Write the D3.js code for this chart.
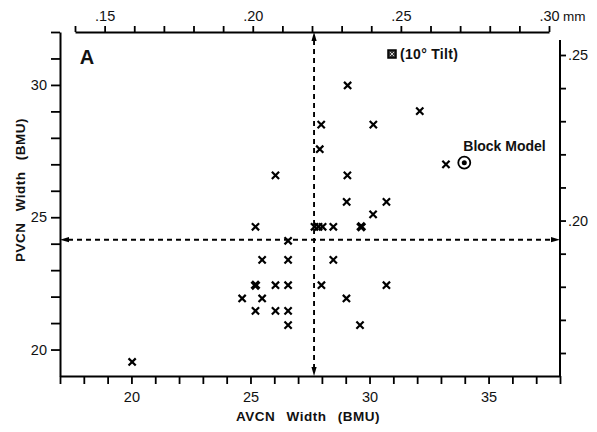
<!DOCTYPE html>
<html>
<head>
<meta charset="utf-8">
<script src="https://cdn.jsdelivr.net/npm/d3@7"></script>
<style>
    html, body { margin: 0; padding: 0; background: #fff; }
    svg { display: block; font-family: "Liberation Sans", Arial, sans-serif; }
</style>
</head>
<body>
<div id="chart"></div>
<script>
/* ============================================= */
/* Data */
/* ============================================= */

// AVCN width (x) and PVCN width (y), in BMU
const avcn = [29.08, 32.11, 27.97, 30.16, 27.91, 33.21, 26.05, 29.07, 29.04, 30.71,
              30.15, 25.21, 27.69, 27.86, 28.03, 28.48, 26.58, 25.49, 26.58, 28.48,
              26.05, 26.58, 27.98, 30.71, 24.65, 25.49, 29.03, 25.21, 26.05, 26.58,
              26.58, 29.60, 20.03];
const pvcn = [29.98, 29.01, 28.50, 28.50, 27.57, 27.00, 26.58, 26.58, 25.58, 25.58,
              25.11, 24.64, 24.64, 24.64, 24.64, 24.64, 24.11, 23.39, 23.39, 23.39,
              22.43, 22.43, 22.43, 22.43, 21.93, 21.93, 21.93, 21.46, 21.46, 21.46,
              20.92, 20.92, 19.53];

// heavier marks (tilted sections)
const tiltAvcn = [29.65, 25.21];
const tiltPvcn = [24.64, 22.43];

const blockModel = [33.98, 27.06];
const medians = [27.67, 24.15];   // [AVCN, PVCN]

const bmuTicks = d3.range(17, 39);
const pvcnTicks = d3.range(20, 33);
const mmTopTicks = d3.range(14, 31).map(d => d / 100);
const mmRightTicks = d3.range(16, 26).map(d => d / 100);

/* ============================================= */
/* Setup */
/* ============================================= */

const width = 597, height = 432;
const svg = d3.select('#chart').append('svg')
    .attr('width', width)
    .attr('height', height);

const x = d3.scaleLinear().domain([17, 38]).range([60, 560]);
const y = d3.scaleLinear().domain([19, 32]).range([376, 32]);
const mmX = d3.scaleLinear().domain([0.14, 0.30]).range([75, 549]);
const mmY = d3.scaleLinear().domain([0.16, 0.25]).range([353, 55]);

const labelFmt = d => (Math.round(d) % 5 === 0 ? d : '');
const mmFmt = d => {
    const v = Math.round(d * 100);
    return v % 5 === 0 ? '.' + v : '';
};

function styleAxis(g) {
    g.selectAll('path.domain').attr('stroke-width', 2);
    g.selectAll('.tick line').attr('stroke-width', 1.8);
    g.selectAll('.tick text')
        .attr('font-size', 14.5)
        .attr('fill', '#111');
}

/* ============================================= */
/* Axes */
/* ============================================= */

svg.append('g')
    .attr('transform', `translate(0,${y(19)})`)
    .call(d3.axisBottom(x).tickValues(bmuTicks).tickSize(8).tickSizeOuter(0)
        .tickPadding(8).tickFormat(labelFmt))
    .call(styleAxis);

svg.append('g')
    .attr('transform', `translate(${x(17)},0)`)
    .call(d3.axisLeft(y).tickValues(pvcnTicks).tickSize(9).tickSizeOuter(0)
        .tickPadding(4).tickFormat(labelFmt))
    .call(styleAxis);

const topAxis = svg.append('g')
    .attr('transform', `translate(0,${y(32)})`)
    .call(d3.axisTop(mmX).tickValues(mmTopTicks).tickSize(6).tickSizeOuter(0)
        .tickPadding(5).tickFormat(mmFmt))
    .call(styleAxis);

topAxis.append('text')
    .attr('x', mmX(0.30) + 14)
    .attr('y', -11)
    .attr('font-size', 13.5)
    .attr('fill', '#111')
    .attr('text-anchor', 'start')
    .text('mm');

const rightAxis = svg.append('g')
    .attr('transform', `translate(${x(38)},0)`)
    .call(d3.axisRight(mmY).tickValues(mmRightTicks).tickSize(6).tickSizeOuter(0)
        .tickPadding(2).tickFormat(mmFmt))
    .call(styleAxis);

rightAxis.select('path.domain').remove();
rightAxis.append('line')
    .attr('y1', 40)
    .attr('y2', y(19))
    .attr('stroke', '#000')
    .attr('stroke-width', 2);

/* ============================================= */
/* Median lines with arrows */
/* ============================================= */

function arrowHead(px, py, dir) {
    // small filled triangle pointing in dir ('up','down','left','right')
    const s = 2.6, l = 9;
    let pts;
    if (dir === 'up') pts = [[px, py], [px - s, py + l], [px + s, py + l]];
    if (dir === 'down') pts = [[px, py], [px - s, py - l], [px + s, py - l]];
    if (dir === 'left') pts = [[px, py], [px + l, py - s], [px + l, py + s]];
    if (dir === 'right') pts = [[px, py], [px - l, py - s], [px - l, py + s]];
    svg.append('polygon')
        .attr('points', pts.map(p => p.join(',')).join(' '))
        .attr('fill', '#000');
}

svg.append('line')
    .attr('x1', x(medians[0])).attr('x2', x(medians[0]))
    .attr('y1', y(32) + 8).attr('y2', y(19) - 8)
    .attr('stroke', '#000')
    .attr('stroke-width', 1.9)
    .attr('stroke-dasharray', '5,4');
arrowHead(x(medians[0]), y(32), 'up');
arrowHead(x(medians[0]), y(19), 'down');

svg.append('line')
    .attr('x1', x(17) + 8).attr('x2', x(38) - 8)
    .attr('y1', y(medians[1])).attr('y2', y(medians[1]))
    .attr('stroke', '#000')
    .attr('stroke-width', 1.9)
    .attr('stroke-dasharray', '5,4');
arrowHead(x(17), y(medians[1]), 'left');
arrowHead(x(38), y(medians[1]), 'right');

/* ============================================= */
/* Points */
/* ============================================= */

const points = avcn.map((d, i) => ({ x: d, y: pvcn[i] }));
const tiltPoints = tiltAvcn.map((d, i) => ({ x: d, y: tiltPvcn[i] }));
const cross = r => `M${-r},${-r}L${r},${r}M${-r},${r}L${r},${-r}`;

svg.selectAll('.dot')
    .data(points)
    .enter().append('path')
    .attr('class', 'dot')
    .attr('transform', d => `translate(${x(d.x)},${y(d.y)})`)
    .attr('d', cross(3.6))
    .attr('stroke', '#000')
    .attr('stroke-width', 2.2)
    .attr('fill', 'none');

svg.selectAll('.tilt')
    .data(tiltPoints)
    .enter().append('path')
    .attr('class', 'tilt')
    .attr('transform', d => `translate(${x(d.x)},${y(d.y)})`)
    .attr('d', cross(3.8))
    .attr('stroke', '#000')
    .attr('stroke-width', 3.4)
    .attr('fill', 'none');

// block model marker
const bm = svg.append('g')
    .attr('transform', `translate(${x(blockModel[0])},${y(blockModel[1])})`);
bm.append('circle').attr('r', 6).attr('fill', 'none')
    .attr('stroke', '#000').attr('stroke-width', 1.8);
bm.append('circle').attr('r', 2.5).attr('fill', '#000');

svg.append('text')
    .attr('x', x(blockModel[0]) - 1)
    .attr('y', y(blockModel[1]) - 12)
    .attr('font-size', 14)
    .attr('font-weight', 'bold')
    .attr('fill', '#111')
    .text('Block Model');

/* ============================================= */
/* Labels */
/* ============================================= */

// tilt legend
svg.append('rect')
    .attr('x', 388).attr('y', 50)
    .attr('width', 8).attr('height', 8)
    .attr('fill', '#333')
    .attr('stroke', '#000')
    .attr('stroke-width', 1.5);
svg.append('path')
    .attr('transform', 'translate(392,54)')
    .attr('d', cross(2))
    .attr('stroke', '#ccc')
    .attr('stroke-width', 1);
svg.append('text')
    .attr('x', 400).attr('y', 59)
    .attr('font-size', 14)
    .attr('font-weight', 'bold')
    .attr('letter-spacing', 0.3)
    .attr('fill', '#111')
    .text('(10\u00b0 Tilt)');

svg.append('text')
    .attr('x', 87).attr('y', 64)
    .attr('text-anchor', 'middle')
    .attr('font-size', 20)
    .attr('font-weight', 'bold')
    .attr('fill', '#111')
    .text('A');

svg.append('text')
    .attr('x', 308).attr('y', 421)
    .attr('text-anchor', 'middle')
    .attr('font-size', 13.5)
    .attr('font-weight', 'bold')
    .attr('word-spacing', 7)
    .attr('letter-spacing', 0.5)
    .attr('fill', '#111')
    .text('AVCN Width (BMU)');

svg.append('text')
    .attr('transform', 'translate(25,190) rotate(-90)')
    .attr('text-anchor', 'middle')
    .attr('font-size', 13.5)
    .attr('font-weight', 'bold')
    .attr('word-spacing', 7)
    .attr('letter-spacing', 0.5)
    .attr('fill', '#111')
    .text('PVCN Width (BMU)');
</script>
</body>
</html>
